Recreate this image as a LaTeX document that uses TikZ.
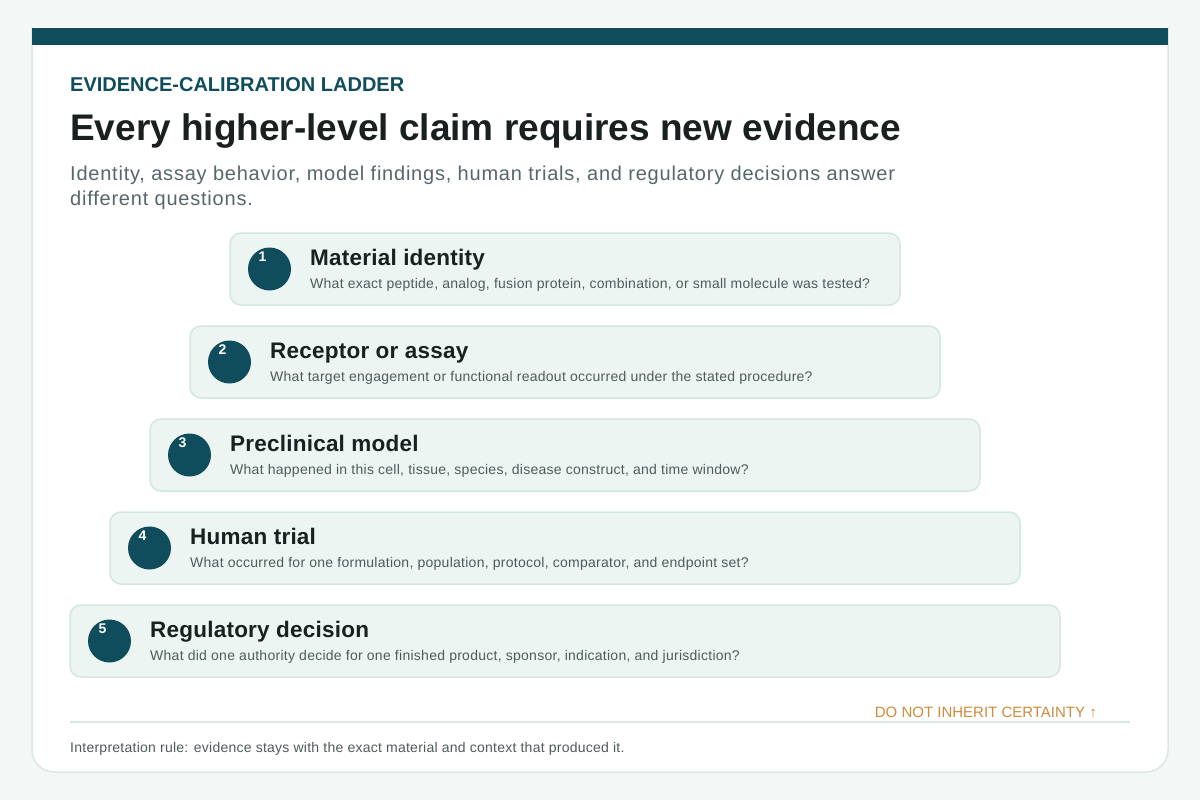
\documentclass[tikz,border=0pt]{standalone}
\usepackage{fontspec}
\setmainfont{Liberation Sans}
\definecolor{bgc}{HTML}{F3F7F6}
\definecolor{teal}{HTML}{0F4C5C}
\definecolor{cardline}{HTML}{D9E8E5}
\definecolor{boxfill}{HTML}{EDF5F3}
\definecolor{boxline}{HTML}{D3E6E1}
\definecolor{ink}{HTML}{1A1F1F}
\definecolor{grayt}{HTML}{4F5B5B}
\definecolor{subt}{HTML}{56666A}
\definecolor{warn}{HTML}{D08B3C}
\tikzset{
  txt/.style={inner sep=0pt, anchor=base west},
  stepbox/.style={draw=boxline, line width=1.5pt, fill=boxfill, rounded corners=11pt},
  numdot/.style={circle, fill=teal, minimum size=43pt, inner sep=0pt},
  numtxt/.style={inner sep=0pt, text=white, font=\fontsize{14}{14}\selectfont\bfseries},
  steptitle/.style={txt, text=ink, font=\fontsize{22.5}{22.5}\selectfont\bfseries\addfontfeature{LetterSpace=1}},
  stepsub/.style={txt, text=grayt, font=\fontsize{14}{14}\selectfont\addfontfeature{LetterSpace=1.9}},
}
\begin{document}
\begin{tikzpicture}[x=1pt,y=-1pt]
\useasboundingbox (0,0) rectangle (1200,800);
\fill[bgc] (0,0) rectangle (1200,800);
\begin{scope}
\clip (0,28) rectangle (1200,800);
\draw[cardline, line width=1.5pt, fill=white, rounded corners=22pt] (32,-10) rectangle (1168,772);
\end{scope}
\fill[teal] (32,28) rectangle (1168,45);
\node[txt, text=teal, font=\fontsize{20}{20}\selectfont\bfseries] (kicker) at (70,92) {EVIDENCE-CALIBRATION LADDER};
\node[txt, text=ink, font=\fontsize{37}{37}\selectfont\bfseries] (title) at (70,140) {Every higher-level claim requires new evidence};
\node[txt, text=subt, font=\fontsize{20}{20}\selectfont\addfontfeature{LetterSpace=3.9}] (sub1) at (70,180) {Identity, assay behavior, model findings, human trials, and regulatory decisions answer};
\node[txt, text=subt, font=\fontsize{20}{20}\selectfont\addfontfeature{LetterSpace=3.9}] (sub2) at (70,205) {different questions.};
\foreach \i/\t/\s in {
 1/Material identity/{What exact peptide, analog, fusion protein, combination, or small molecule was tested?},
 2/Receptor or assay/{What target engagement or functional readout occurred under the stated procedure?},
 3/Preclinical model/{What happened in this cell, tissue, species, disease construct, and time window?},
 4/Human trial/{What occurred for one formulation, population, protocol, comparator, and endpoint set?},
 5/Regulatory decision/{What did one authority decide for one finished product, sponsor, indication, and jurisdiction?}}{
  \pgfmathsetmacro{\L}{230-40*(\i-1)}
  \pgfmathsetmacro{\R}{900+40*(\i-1)}
  \pgfmathsetmacro{\T}{233+93*(\i-1)}
  \draw[stepbox] (\L,\T) rectangle (\R,\T+72);
  \node[numdot] (dot\i) at (\L+39.5,\T+36) {};
  \node[numtxt] (num\i) at (\L+32.5,\T+23.5) {\i};
  \node[steptitle] (title\i) at (\L+80,\T+32) {\t};
  \node[stepsub] (sub\i) at (\L+80,\T+55) {\s};
}
\draw[cardline, line width=1.5pt] (70,722) -- (1130,722);
\node[inner sep=0pt, anchor=base east, text=warn, font=\fontsize{15}{15}\selectfont] (warn) at (1097,717) {DO NOT INHERIT CERTAINTY ↑};
\node[txt, text=grayt, font=\fontsize{14}{14}\selectfont\addfontfeature{LetterSpace=1.8}] (foot) at (70,752) {Interpretation rule: evidence stays with the exact material and context that produced it.};
\end{tikzpicture}
\end{document}
